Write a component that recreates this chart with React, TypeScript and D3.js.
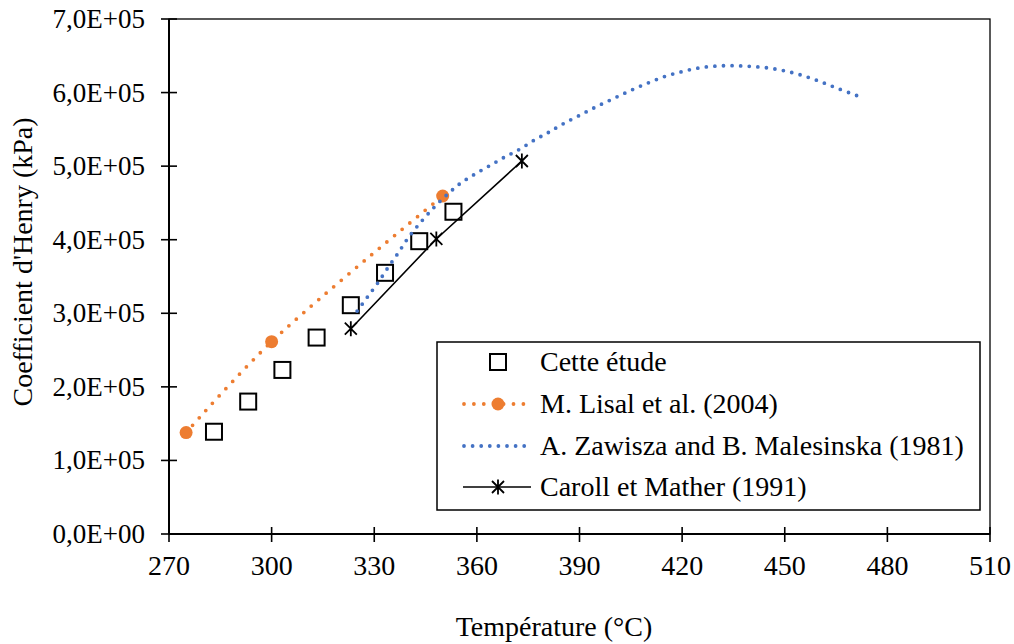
import React from "react";
import * as d3 from "d3";

const xTicks = [270, 300, 330, 360, 390, 420, 450, 480, 510];
const yTicks = [0, 1e5, 2e5, 3e5, 4e5, 5e5, 6e5, 7e5];
const yTickLabels = ["0,0E+00", "1,0E+05", "2,0E+05", "3,0E+05", "4,0E+05", "5,0E+05", "6,0E+05", "7,0E+05"];

const etudeT = [283.15, 293.15, 303.15, 313.15, 323.15, 333.15, 343.15, 353.15];
const etudeH = [1.39e5, 1.8e5, 2.23e5, 2.67e5, 3.11e5, 3.55e5, 3.98e5, 4.38e5];

const lisalT = [275, 300, 350];
const lisalH = [1.378e5, 2.614e5, 4.594e5];

const zawiszaT = [325, 328, 331, 334, 337, 340, 344, 347.5, 351, 355, 359, 363.5, 368, 372.5, 377, 381, 385, 390, 395, 400, 405, 410, 415, 420, 425, 430, 435, 440, 445, 450, 455, 460, 465, 471];
const zawiszaH = [3.03e5, 3.22e5, 3.41e5, 3.62e5, 3.82e5, 4.03e5, 4.26e5, 4.44e5, 4.6e5, 4.76e5, 4.88e5, 5.0e5, 5.12e5, 5.23e5, 5.36e5, 5.46e5, 5.57e5, 5.69e5, 5.81e5, 5.92e5, 6.03e5, 6.13e5, 6.22e5, 6.285e5, 6.335e5, 6.36e5, 6.365e5, 6.355e5, 6.335e5, 6.295e5, 6.235e5, 6.155e5, 6.065e5, 5.96e5];

const carollT = [323.15, 348.15, 373.15];
const carollH = [2.79e5, 4.01e5, 5.07e5];

const legendLabels = ["Cette étude", "M. Lisal et al. (2004)", "A. Zawisza and B. Malesinska (1981)", "Caroll et Mather (1991)"];

const ORANGE = "#ED7D31";
const BLUE = "#4472C4";
const FONT = "'Liberation Serif', 'Times New Roman', serif";
const FS = 28;
const FSY = 27;

const W = 1014;
const H = 644;
const L = 169, R = 990, T = 19, B = 534;

const asterisk = "M-6,-6L6,6M-6,6L6,-6M0,-7.5L0,7.5";

export default function App() {
  const x = d3.scaleLinear().domain([270, 510]).range([L, R]);
  const y = d3.scaleLinear().domain([0, 7e5]).range([B, T]);

  const pts = (ts: number[], hs: number[]) => ts.map((t, i) => [t, hs[i]] as [number, number]);

  const smooth = d3
    .line<[number, number]>()
    .x((d) => x(d[0]))
    .y((d) => y(d[1]))
    .curve(d3.curveCatmullRom.alpha(0.5));
  const straight = d3
    .line<[number, number]>()
    .x((d) => x(d[0]))
    .y((d) => y(d[1]));

  const lisal = pts(lisalT, lisalH);
  const zaw = pts(zawiszaT, zawiszaH);
  const car = pts(carollT, carollH);
  const etu = pts(etudeT, etudeH);

  const legX = 437, legY = 342, legW = 543, legH = 168;
  const rows = [362, 404, 446, 487];
  const symL = 464, symR = 531, symC = 498;
  const textX = 540;

  return (
    <svg width={W} height={H} style={{ position: "absolute", left: 0, top: 0, background: "#fff" }} fontFamily={FONT}>
      <rect x={0} y={0} width={W} height={H} fill="#fff" />
      {/* frame */}
      <rect x={L} y={T} width={R - L} height={B - T} fill="none" stroke="#000" strokeWidth={1.3} />
      {/* axes */}
      <line x1={L} y1={T} x2={L} y2={B} stroke="#000" strokeWidth={2} />
      <line x1={L} y1={B} x2={R} y2={B} stroke="#000" strokeWidth={2} />
      {yTicks.map((v, i) => (
        <g key={"yt" + i}>
          <line x1={L - 8} x2={L + 8} y1={y(v)} y2={y(v)} stroke="#000" strokeWidth={1.6} />
          <text x={145} y={y(v) + 9} textAnchor="end" fontSize={FSY}>
            {yTickLabels[i]}
          </text>
        </g>
      ))}
      {xTicks.map((v, i) => (
        <g key={"xt" + i}>
          <line x1={x(v)} x2={x(v)} y1={B - 7} y2={B + 8} stroke="#000" strokeWidth={1.6} />
          <text x={x(v)} y={575} textAnchor="middle" fontSize={FS}>
            {v}
          </text>
        </g>
      ))}
      <text x={554} y={636} textAnchor="middle" fontSize={FS}>
        Température (°C)
      </text>
      <text transform={`translate(32,262) rotate(-90)`} textAnchor="middle" fontSize={FS}>
        Coefficient d'Henry (kPa)
      </text>

      {/* Cette étude */}
      {etu.map((d, i) => (
        <rect key={"sq" + i} x={x(d[0]) - 8} y={y(d[1]) - 8} width={16} height={16} fill="none" stroke="#000" strokeWidth={2} />
      ))}
      {/* Lisal */}
      <path d={smooth(lisal) || ""} fill="none" stroke={ORANGE} strokeWidth={3.8} strokeDasharray="0 9.9" strokeLinecap="round" />
      {lisal.map((d, i) => (
        <circle key={"li" + i} cx={x(d[0])} cy={y(d[1])} r={6.5} fill={ORANGE} />
      ))}
      {/* Zawisza */}
      <path d={smooth(zaw) || ""} fill="none" stroke={BLUE} strokeWidth={3.8} strokeDasharray="0 8.6" strokeLinecap="round" />
      {/* Caroll */}
      <path d={straight(car) || ""} fill="none" stroke="#000" strokeWidth={1.6} />
      {car.map((d, i) => (
        <path key={"ca" + i} d={asterisk} transform={`translate(${x(d[0])},${y(d[1])})`} stroke="#000" strokeWidth={1.8} fill="none" />
      ))}

      {/* legend */}
      <rect x={legX} y={legY} width={legW} height={legH} fill="#fff" stroke="#000" strokeWidth={1.5} />
      <rect x={symC - 8} y={rows[0] - 8} width={16} height={16} fill="none" stroke="#000" strokeWidth={2} />
      <line x1={symL} x2={symR - 6} y1={rows[1]} y2={rows[1]} stroke={ORANGE} strokeWidth={3.8} strokeDasharray="0 9.9" strokeLinecap="round" />
      <circle cx={symC} cy={rows[1]} r={6.5} fill={ORANGE} />
      <line x1={symL} x2={symR - 6} y1={rows[2]} y2={rows[2]} stroke={BLUE} strokeWidth={3.8} strokeDasharray="0 8.6" strokeLinecap="round" />
      <line x1={symL - 1} x2={symR} y1={rows[3]} y2={rows[3]} stroke="#000" strokeWidth={1.6} />
      <path d={asterisk} transform={`translate(${symC},${rows[3]})`} stroke="#000" strokeWidth={1.8} fill="none" />
      {legendLabels.map((t, i) => (
        <text key={"lg" + i} x={textX} y={rows[i] + 9} fontSize={FS}>
          {t}
        </text>
      ))}
    </svg>
  );
}
